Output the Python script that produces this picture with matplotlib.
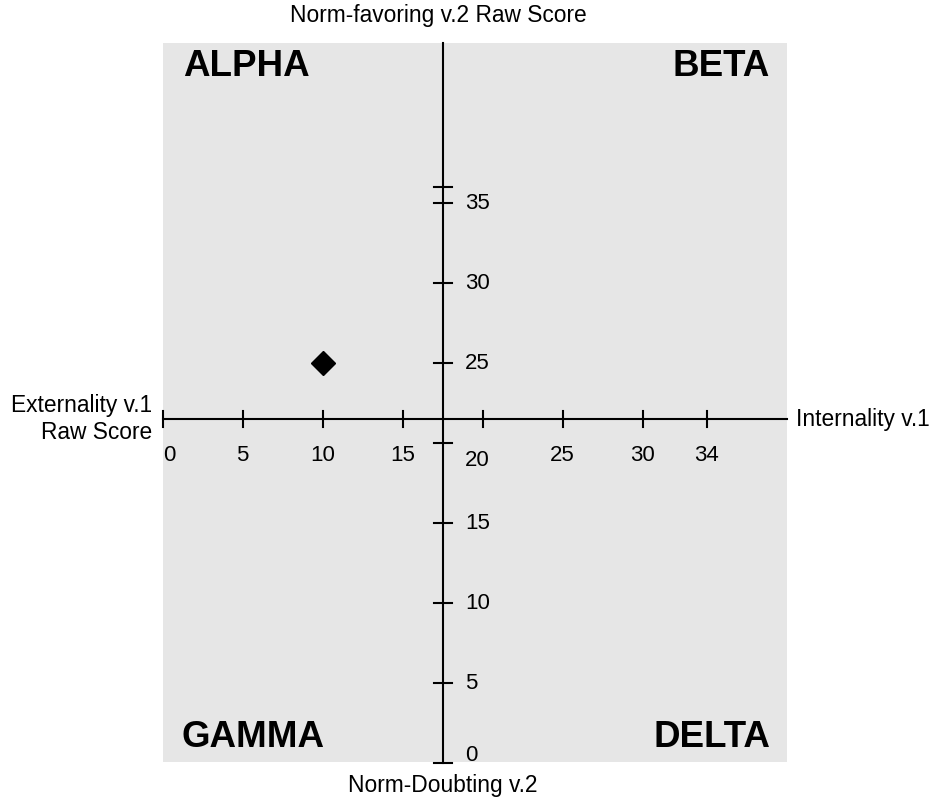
import matplotlib
matplotlib.use("Agg")
import matplotlib.pyplot as plt
from matplotlib.patches import Rectangle

plt.rcParams['font.family'] = ['Liberation Sans', 'DejaVu Sans']

# data
x_ticks = [0, 5, 10, 15, 20, 25, 30, 34]
y_ticks = [0, 5, 10, 15, 20, 25, 30, 35, 36]
y_labels = ['0', '5', '10', '15', '20', '25', '30', '35', '']
x_cross = 17.5   # where the vertical axis sits
y_cross = 21.5   # where the horizontal axis sits
score_x = [10]
score_y = [25]
quadrants = ['ALPHA', 'BETA', 'GAMMA', 'DELTA']

fig = plt.figure(figsize=(9.31, 8.01), dpi=100)
ax = fig.add_axes([0, 0, 1, 1])
ax.set_xlim(-10.17, 48.02)
ax.set_ylim(-2.375, 47.69)
ax.axis('off')

# gray field
ax.add_patch(Rectangle((0, 0.05), 39, 44.95, facecolor='#e6e6e6', edgecolor='none', zorder=0))

lw = 1.5
# axes lines
ax.plot([0, 39], [y_cross, y_cross], color='black', lw=lw, zorder=2)
ax.plot([x_cross, x_cross], [0, 45], color='black', lw=lw, zorder=2)

# x ticks
for xt in x_ticks:
    ax.plot([xt, xt], [y_cross - 0.5, y_cross + 0.5], color='black', lw=lw, zorder=2)
    if xt == 20:
        continue
    if xt == 0:
        ax.text(xt, 19.2, str(xt), ha='left', va='center', fontsize=16)
    else:
        ax.text(xt, 19.2, str(xt), ha='center', va='center', fontsize=16)

# y ticks
for yt, lab in zip(y_ticks, y_labels):
    ax.plot([x_cross - 0.55, x_cross + 0.55], [yt, yt], color='black', lw=lw, zorder=2)
    ypos = yt
    if yt == 20:
        ypos = 18.9
    elif yt == 0:
        ypos = 0.5
    if lab:
        ax.text(18.9, ypos, lab, ha='left', va='center', fontsize=16)

# score point
ax.plot(score_x, score_y, marker='D', ms=12, color='black', linestyle='none', zorder=3)

# quadrant names
qfs = 26.5
ax.text(1.3, 43.55, quadrants[0], ha='left', va='center', fontsize=qfs, fontweight='bold')
ax.text(37.95, 43.55, quadrants[1], ha='right', va='center', fontsize=qfs, fontweight='bold')
ax.text(1.2, 1.6, quadrants[2], ha='left', va='center', fontsize=qfs, fontweight='bold')
ax.text(37.95, 1.6, quadrants[3], ha='right', va='center', fontsize=qfs, fontweight='bold')

# axis titles
ax.text(17.25, 46.75, 'Norm-favoring v.2 Raw Score', ha='center', va='center', fontsize=16.4)
ax.text(x_cross, -1.4, 'Norm-Doubting v.2', ha='center', va='center', fontsize=16.4)
ax.text(39.6, y_cross, 'Internality v.1', ha='left', va='center', fontsize=16.4)
ax.text(-0.67, y_cross, 'Externality v.1\nRaw Score', ha='right', va='center',
        fontsize=16.4, multialignment='right')

fig.savefig('out.png', dpi=100)
